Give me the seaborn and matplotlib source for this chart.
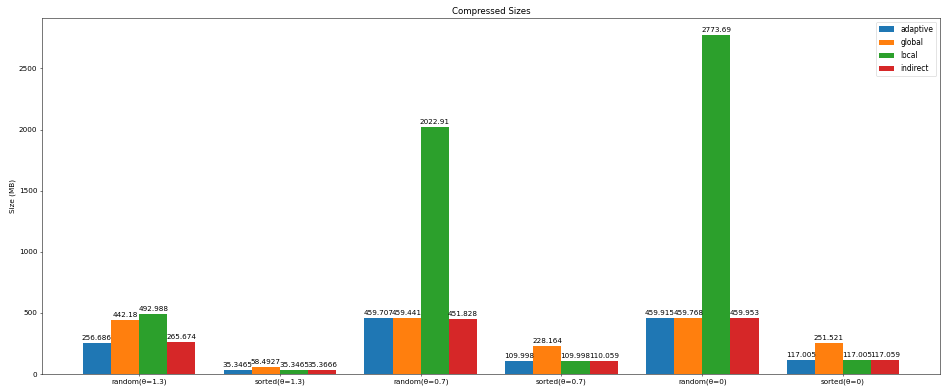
import matplotlib
matplotlib.use("Agg")
import matplotlib.pyplot as plt
import pandas as pd
import seaborn as sns

datasets = ["random(θ=1.3)", "sorted(θ=1.3)", "random(θ=0.7)",
            "sorted(θ=0.7)", "random(θ=0)", "sorted(θ=0)"]
methods = ["adaptive", "global", "local", "indirect"]

adaptive = [256.686, 35.3465, 459.707, 109.998, 459.915, 117.005]
global_ = [442.18, 58.4927, 459.441, 228.164, 459.768, 251.521]
local = [492.988, 35.3465, 2022.91, 109.998, 2773.69, 117.005]
indirect = [265.674, 35.3666, 451.828, 110.059, 459.953, 117.059]

series = dict(zip(methods, [adaptive, global_, local, indirect]))
rows = []
for m in methods:
    for d, v in zip(datasets, series[m]):
        rows.append({"dataset": d, "method": m, "size": v})
df = pd.DataFrame(rows)

plt.rcParams.update({"font.size": 11, "axes.titlesize": 13.2,
                     "xtick.labelsize": 11, "ytick.labelsize": 11,
                     "legend.fontsize": 11.5, "axes.labelsize": 11})

fig, ax = plt.subplots(figsize=(20, 8.293), dpi=47.15)
sns.barplot(data=df, x="dataset", y="size", hue="method", order=datasets,
            hue_order=methods, palette="tab10", saturation=1, errorbar=None,
            width=0.8, edgecolor="none", linewidth=0, ax=ax)

for cont in ax.containers:
    ax.bar_label(cont, fmt="%g", fontsize=11, padding=3)

ax.set_xlim(-0.69, 5.69)
ax.set_ylim(0, 2773.69 * 1.05)
ax.set_xlabel("")
ax.set_ylabel("Size (MB)")
ax.set_title("Compressed Sizes")
ax.legend(loc="upper right", labelspacing=0.55)

fig.subplots_adjust(left=0.0445, right=0.997, top=0.954, bottom=0.0435)
fig.savefig("out.png", dpi=47.15)
